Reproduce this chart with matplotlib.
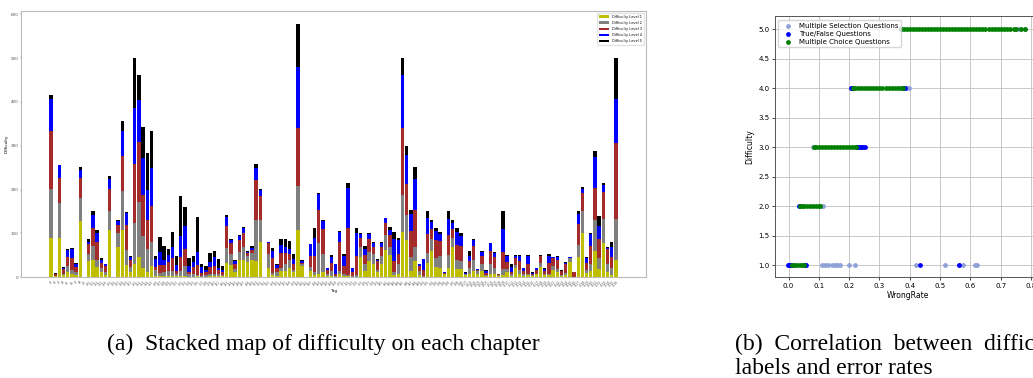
import matplotlib
matplotlib.use("Agg")
import matplotlib.pyplot as plt
import numpy as np

# stacked counts per chapter tag, one list per difficulty level
level1 = [90, 2, 90, 5, 12, 7, 5, 127, 0, 37, 40, 24, 12, 5, 107, 0, 68, 107, 27, 11,
          29, 46, 21, 12, 25, 2, 2, 2, 3, 2, 2, 2, 2, 1, 1, 2, 1, 1, 2, 2,
          2, 2, 32, 28, 12, 39, 39, 35, 40, 37, 79, 0, 21, 5, 3, 14, 14, 20, 12, 107,
          25, 1, 14, 5, 8, 12, 3, 3, 0, 8, 3, 3, 1, 1, 46, 14, 37, 30, 12, 31,
          62, 50, 5, 8, 103, 84, 14, 37, 5, 0, 33, 60, 24, 20, 6, 21, 69, 18, 18, 5,
          8, 14, 8, 14, 3, 8, 7, 3, 5, 12, 3, 20, 8, 3, 5, 3, 6, 22, 5, 5,
          16, 12, 3, 5, 35, 0, 45, 101, 10, 14, 60, 18, 78, 12, 5, 40]
level2 = [112, 1, 79, 3, 13, 9, 6, 54, 0, 15, 30, 16, 9, 7, 44, 0, 32, 89, 35, 13,
          94, 125, 73, 52, 54, 14, 8, 10, 10, 13, 4, 12, 23, 6, 7, 3, 2, 4, 6, 6,
          4, 3, 34, 24, 6, 19, 29, 13, 16, 93, 51, 0, 32, 5, 9, 6, 16, 19, 4, 101,
          5, 0, 8, 7, 69, 41, 3, 11, 2, 6, 3, 2, 2, 4, 22, 17, 21, 23, 4, 17,
          34, 18, 7, 22, 84, 58, 32, 31, 9, 2, 21, 26, 20, 28, 2, 29, 21, 22, 19, 1,
          13, 25, 6, 17, 2, 22, 13, 2, 13, 6, 3, 7, 8, 4, 3, 2, 2, 11, 3, 3,
          9, 6, 2, 5, 8, 0, 28, 50, 6, 17, 70, 26, 54, 18, 15, 92]
level3 = [131, 5, 58, 10, 21, 28, 11, 46, 0, 23, 42, 39, 12, 13, 50, 0, 19, 80, 57, 15,
          136, 137, 93, 66, 84, 7, 17, 15, 22, 28, 9, 33, 38, 5, 16, 22, 6, 6, 16, 17,
          10, 6, 51, 26, 13, 27, 32, 6, 6, 91, 55, 1, 24, 34, 9, 36, 24, 14, 15, 133,
          3, 0, 26, 36, 77, 57, 10, 19, 4, 65, 20, 106, 9, 43, 22, 19, 30, 15, 21, 20,
          27, 28, 25, 22, 154, 70, 59, 86, 11, 14, 44, 23, 40, 34, 2, 46, 20, 33, 34, 2,
          16, 32, 2, 18, 5, 30, 26, 2, 40, 17, 6, 16, 21, 7, 22, 3, 8, 15, 6, 25,
          19, 22, 9, 19, 1, 12, 48, 40, 17, 40, 74, 42, 63, 34, 25, 175]
level4 = [73, 0, 29, 3, 16, 19, 8, 18, 0, 6, 29, 22, 7, 4, 22, 0, 9, 57, 28, 7,
          127, 97, 84, 70, 87, 19, 30, 13, 15, 25, 13, 47, 53, 13, 11, 31, 13, 5, 11, 20,
          5, 6, 20, 7, 5, 9, 11, 4, 5, 29, 14, 0, 3, 15, 6, 17, 14, 12, 10, 138,
          4, 0, 27, 42, 35, 19, 4, 12, 25, 24, 22, 93, 8, 52, 8, 14, 10, 9, 3, 10,
          11, 11, 49, 32, 120, 67, 40, 69, 4, 25, 37, 17, 21, 16, 1, 36, 13, 30, 23, 2,
          11, 13, 2, 9, 5, 17, 10, 1, 52, 14, 12, 6, 12, 6, 19, 2, 4, 1, 4, 15,
          1, 5, 1, 4, 1, 0, 23, 11, 11, 27, 71, 30, 15, 3, 23, 99]
level5 = [11, 2, 1, 2, 2, 3, 2, 6, 0, 5, 10, 6, 3, 2, 7, 0, 2, 23, 2, 3,
          114, 57, 71, 84, 83, 7, 34, 32, 13, 34, 21, 92, 45, 19, 14, 80, 9, 9, 21, 15,
          20, 8, 4, 2, 2, 1, 4, 2, 4, 9, 2, 0, 1, 8, 3, 15, 18, 17, 11, 100,
          2, 0, 0, 21, 3, 1, 1, 5, 0, 3, 4, 12, 1, 11, 2, 7, 2, 4, 1, 1,
          1, 8, 17, 6, 40, 20, 8, 29, 2, 0, 16, 4, 6, 4, 1, 19, 7, 8, 7, 1,
          11, 2, 1, 1, 1, 1, 2, 0, 41, 1, 6, 1, 1, 1, 1, 1, 1, 1, 3, 4,
          0, 3, 1, 2, 0, 0, 7, 3, 2, 2, 13, 23, 6, 1, 11, 95]
tags = ["c%d" % (i + 1) for i in range(len(level1))]
level_names = ["Difficulty Level 1", "Difficulty Level 2", "Difficulty Level 3",
               "Difficulty Level 4", "Difficulty Level 5"]
level_colors = ["y", "grey", "brown", "blue", "black"]

# wrong rate of questions per difficulty label, split by question type
ms_x = [0.369, 0.108, 0.114, 0.081, 0.39, 0.398, 0.76, 0.78,
        0.0, 0.02, 0.04, 0.111, 0.12, 0.131, 0.144, 0.153, 0.16, 0.169, 0.2, 0.219,
        0.419, 0.515, 0.561, 0.576, 0.614, 0.622]
ms_y = [5, 2, 2, 3, 4, 4, 5, 5,
        1, 1, 1, 1, 1, 1, 1, 1, 1, 1, 1, 1,
        1, 1, 1, 1, 1, 1]
tf_x = [0.372, 0.205, 0.21, 0.378, 0.383, 0.225, 0.23, 0.235, 0.24, 0.245, 0.252,
        0.035, -0.003, 0.0, 0.005, 0.01, 0.05, 0.055, 0.057, 0.433, 0.561]
tf_y = [5, 4, 4, 4, 4, 3, 3, 3, 3, 3, 3,
        2, 1, 1, 1, 1, 1, 1, 1, 1, 1]
mc_x5 = [0.372, 0.38, 0.39, 0.40, 0.41, 0.42, 0.43, 0.44, 0.45, 0.46, 0.47, 0.48,
         0.49, 0.50, 0.51, 0.52, 0.53, 0.54, 0.55, 0.56, 0.57, 0.58, 0.59, 0.60,
         0.61, 0.62, 0.63, 0.64, 0.65, 0.66, 0.67, 0.68, 0.69, 0.70, 0.71, 0.72,
         0.73, 0.743, 0.752, 0.768, 0.782]
mc_x4 = [0.213, 0.22, 0.23, 0.24, 0.25, 0.26, 0.27, 0.28, 0.29, 0.30, 0.31, 0.32,
         0.33, 0.34, 0.35, 0.36, 0.37, 0.378]
mc_x3 = [0.085, 0.09, 0.10, 0.11, 0.12, 0.13, 0.14, 0.15, 0.16, 0.17, 0.18, 0.19,
         0.20, 0.21, 0.22, 0.224]
mc_x2 = [0.038, 0.045, 0.05, 0.06, 0.07, 0.08, 0.09, 0.10, 0.103]
mc_x1 = [0.01, 0.02, 0.03, 0.04, 0.05]

fig = plt.figure(figsize=(10.33, 3.78), dpi=100)

# (a) stacked bars
ax = fig.add_axes([0.0203, 0.267, 0.605, 0.704])
bottom = np.zeros(len(tags))
for vals, name, col in zip([level1, level2, level3, level4, level5], level_names, level_colors):
    ax.bar(tags, vals, bottom=bottom, width=0.8, color=col, label=name)
    bottom += np.array(vals)
ax.set_xlabel("Tag", fontsize=3, labelpad=1)
ax.set_ylabel("Difficulty", fontsize=3, labelpad=1)
ax.tick_params(axis="x", labelsize=2.2, rotation=45, length=1, width=0.3, pad=1, colors="#555555")
ax.tick_params(axis="y", labelsize=3, length=1, width=0.3, pad=1, colors="#555555")
for s in ax.spines.values():
    s.set_color("#bbbbbb")
    s.set_linewidth(0.8)
ax.legend(loc="upper right", fontsize=2.5, handlelength=3, borderpad=0.6, labelspacing=0.6,
          frameon=True, edgecolor="#dddddd", fancybox=False)

# (b) scatter
ax2 = fig.add_axes([0.7502, 0.267, 0.2566, 0.690])
ax2.scatter(ms_x, ms_y, s=6, color="#8fa2d8", label="Multiple Selection Questions", zorder=3)
ax2.scatter(tf_x, tf_y, s=6, color="blue", label="True/False Questions", zorder=3)
mc_x = mc_x5 + mc_x4 + mc_x3 + mc_x2 + mc_x1
mc_y = [5] * len(mc_x5) + [4] * len(mc_x4) + [3] * len(mc_x3) + [2] * len(mc_x2) + [1] * len(mc_x1)
ax2.scatter(mc_x, mc_y, s=6, color="green", label="Multiple Choice Questions", zorder=3)
ax2.set_xlim(-0.045, 0.83)
ax2.set_ylim(0.8, 5.22)
ax2.set_xticks([0.0, 0.1, 0.2, 0.3, 0.4, 0.5, 0.6, 0.7, 0.8])
ax2.set_yticks([1.0, 1.5, 2.0, 2.5, 3.0, 3.5, 4.0, 4.5, 5.0])
ax2.grid(True, color="#c8c8c8", linewidth=0.7)
ax2.set_axisbelow(True)
ax2.tick_params(labelsize=5, length=2, width=0.5, pad=2)
ax2.set_xlabel("WrongRate", fontsize=5.5, labelpad=2)
ax2.set_ylabel("Difficulty", fontsize=5.5, labelpad=3)
for s in ax2.spines.values():
    s.set_color("#555555")
    s.set_linewidth(0.7)
ax2.legend(loc="upper left", fontsize=5, handletextpad=0.5, borderpad=0.4, labelspacing=0.3,
           fancybox=True, edgecolor="#cccccc")

# captions
cap = {"family": "Liberation Serif", "fontsize": 17}
fig.text(0.313, 0.090, "(a)  Stacked map of difficulty on each chapter", ha="center", va="center", **cap)
fig.text(0.712, 0.090, "(b)  Correlation  between  difficulty", ha="left", va="center", **cap)
fig.text(0.712, 0.026, "labels and error rates", ha="left", va="center", **cap)

fig.savefig("out.png", dpi=100)
